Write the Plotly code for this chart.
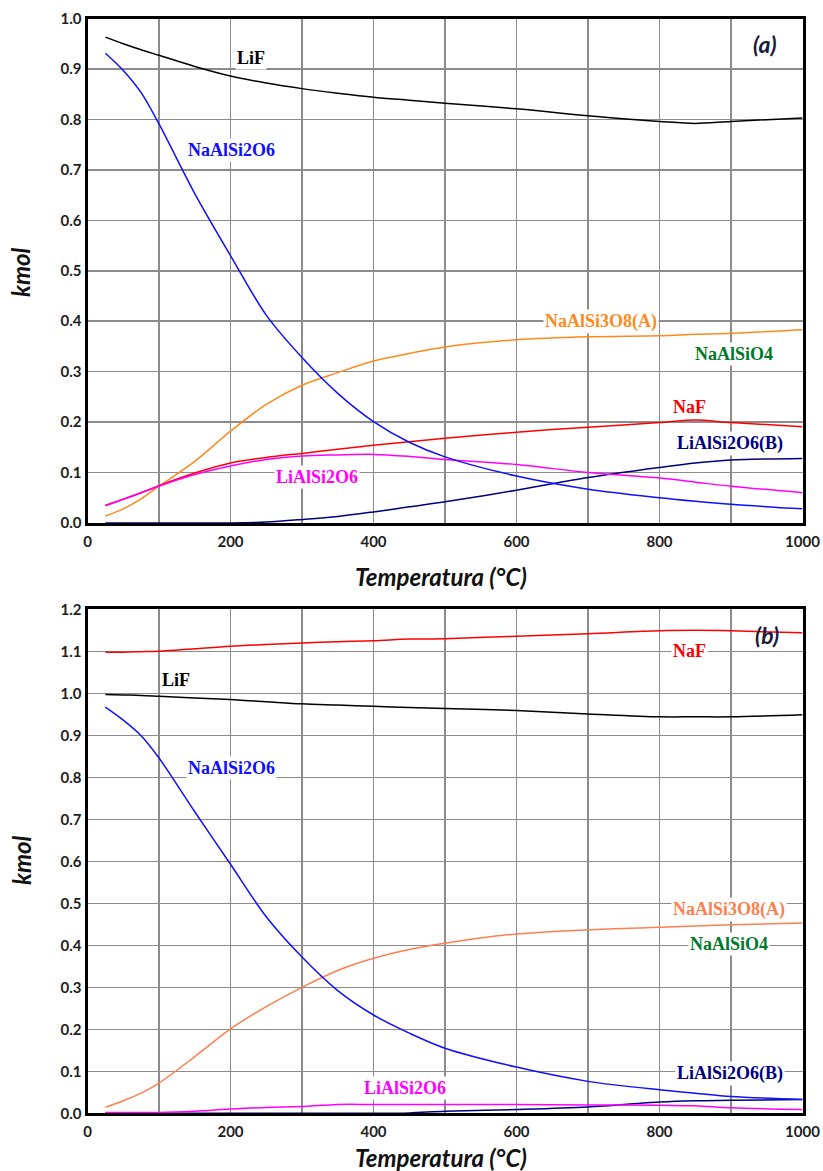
import plotly.graph_objects as go
from plotly.subplots import make_subplots

# ---------------- data ----------------
T = [25, 50, 75, 100, 150, 200, 250, 300, 350, 400, 450, 500, 600, 700, 800, 850, 900, 1000]

# panel (a)
LiF_a        = [0.963, 0.950, 0.938, 0.927, 0.905, 0.886, 0.872, 0.861, 0.852, 0.844, 0.838, 0.832, 0.821, 0.807, 0.796, 0.792, 0.796, 0.803]
NaAlSi2O6_a  = [0.931, 0.897, 0.853, 0.791, 0.653, 0.530, 0.412, 0.328, 0.257, 0.201, 0.160, 0.131, 0.093, 0.067, 0.050, 0.043, 0.037, 0.028]
NaAlSi3O8_a  = [0.014, 0.028, 0.048, 0.073, 0.122, 0.182, 0.235, 0.273, 0.298, 0.321, 0.336, 0.349, 0.363, 0.369, 0.371, 0.374, 0.376, 0.383]
NaF_a        = [0.035, 0.047, 0.060, 0.074, 0.099, 0.119, 0.130, 0.138, 0.146, 0.154, 0.161, 0.168, 0.180, 0.190, 0.199, 0.204, 0.199, 0.191]
LiAlSi2O6_a  = [0.034, 0.047, 0.060, 0.073, 0.096, 0.113, 0.126, 0.133, 0.135, 0.136, 0.132, 0.126, 0.116, 0.100, 0.089, 0.081, 0.073, 0.060]
LiAlSi2O6B_a = [0.000, 0.000, 0.000, 0.000, 0.000, 0.000, 0.002, 0.007, 0.013, 0.022, 0.032, 0.042, 0.065, 0.090, 0.110, 0.119, 0.125, 0.128]

# panel (b)
NaF_b        = [1.098, 1.098, 1.099, 1.100, 1.106, 1.112, 1.116, 1.120, 1.123, 1.125, 1.129, 1.130, 1.136, 1.142, 1.149, 1.150, 1.149, 1.144]
LiF_b        = [0.997, 0.996, 0.995, 0.993, 0.989, 0.985, 0.980, 0.975, 0.972, 0.969, 0.966, 0.964, 0.959, 0.951, 0.944, 0.944, 0.944, 0.949]
NaAlSi2O6_b  = [0.967, 0.936, 0.899, 0.846, 0.718, 0.593, 0.468, 0.372, 0.292, 0.234, 0.191, 0.155, 0.110, 0.076, 0.056, 0.048, 0.040, 0.033]
NaAlSi3O8_b  = [0.014, 0.030, 0.048, 0.072, 0.135, 0.201, 0.254, 0.300, 0.340, 0.369, 0.390, 0.405, 0.427, 0.437, 0.443, 0.446, 0.449, 0.453]
LiAlSi2O6_b  = [0.002, 0.002, 0.002, 0.002, 0.005, 0.010, 0.014, 0.016, 0.021, 0.021, 0.021, 0.021, 0.021, 0.020, 0.019, 0.018, 0.013, 0.009]
LiAlSi2O6B_b = [0.000, 0.000, 0.000, 0.000, 0.000, 0.000, 0.000, 0.000, 0.000, 0.000, 0.001, 0.005, 0.009, 0.015, 0.027, 0.030, 0.031, 0.033]

x_ticks = [0, 200, 400, 600, 800, 1000]

# ---------------- styles ----------------
C_LiF = "#000000"
C_NaAlSi2O6 = "#1010ff"
C_NaAlSi3O8_a = "#ff8a1c"
C_NaAlSi3O8_b = "#ff7f50"
C_NaF = "#ff0000"
C_LiAlSi2O6 = "#ff00ff"
C_LiAlSi2O6B = "#000080"
C_NaAlSiO4 = "#007a2a"

fig = make_subplots(rows=2, cols=1)

def add(row, y, color):
    fig.add_trace(go.Scatter(x=T, y=y, mode="lines", line=dict(color=color, width=1.5, shape="spline", smoothing=0.9),
                             showlegend=False, hoverinfo="skip"), row=row, col=1)

add(1, LiAlSi2O6B_a, C_LiAlSi2O6B)
add(1, NaAlSi3O8_a, C_NaAlSi3O8_a)
add(1, NaF_a, C_NaF)
add(1, LiAlSi2O6_a, C_LiAlSi2O6)
add(1, NaAlSi2O6_a, C_NaAlSi2O6)
add(1, LiF_a, C_LiF)

add(2, LiAlSi2O6B_b, C_LiAlSi2O6B)
add(2, LiAlSi2O6_b, C_LiAlSi2O6)
add(2, NaAlSi3O8_b, C_NaAlSi3O8_b)
add(2, NaAlSi2O6_b, C_NaAlSi2O6)
add(2, LiF_b, C_LiF)
add(2, NaF_b, C_NaF)

# the page body margin is removed in post_script, so the figure fills the window
W, H = 823, 1171
def px(xp):
    return xp / W
def py(yp):
    return 1 - yp / H

x0, x1 = px(87.5), px(802.5)
ya = (py(523), py(18.5))
yb = (py(1113.3), py(609.3))

grid = "#8c8c8c"
tickfont = dict(family="Lato", size=15, color="#1e1e1e", weight="bold")
xcommon = dict(range=[0, 1000], tickvals=x_ticks, showgrid=True, gridcolor=grid, gridwidth=1.5,
               minor=dict(dtick=100, tick0=0, showgrid=True, gridcolor=grid, gridwidth=1.5),
               showline=True, linecolor="black", linewidth=3, mirror=True, zeroline=False,
               ticks="", tickfont=tickfont, ticklabelstandoff=3, automargin=False,
               ticklabeloverflow="allow", domain=[x0, x1])
ycommon = dict(dtick=0.1, tick0=0, tickformat=".1f", showgrid=True, gridcolor=grid, gridwidth=1.5,
               showline=True, linecolor="black", linewidth=3, mirror=True, zeroline=False,
               ticks="", tickfont=tickfont, ticklabelstandoff=0, automargin=False,
               ticklabeloverflow="allow")

fig.update_layout(
    width=W, height=H, margin=dict(l=0, r=0, t=0, b=0),
    paper_bgcolor="white", plot_bgcolor="white",
    xaxis=dict(**xcommon), xaxis2=dict(**xcommon),
    yaxis=dict(**ycommon, range=[0, 1.0], domain=list(ya)),
    yaxis2=dict(**ycommon, range=[0, 1.2], domain=list(yb)),
)

lab_font = "Liberation Serif"
def lab(text, x, y, color, row):
    fig.add_annotation(x=x, y=y, xref="x" if row == 1 else "x2", yref="y" if row == 1 else "y2",
                       text="<b>" + text + "</b>", showarrow=False, bgcolor="white", borderpad=1,
                       xanchor="center", yanchor="middle",
                       font=dict(family=lab_font, size=18, color=color))

lab("LiF", 229, 0.921, C_LiF, 1)
lab("NaAlSi2O6", 201, 0.740, C_NaAlSi2O6, 1)
lab("LiAlSi2O6", 321, 0.091, C_LiAlSi2O6, 1)
lab("NaAlSi3O8(A)", 718, 0.399, C_NaAlSi3O8_a, 1)
lab("NaAlSiO4", 904, 0.335, C_NaAlSiO4, 1)
lab("NaF", 842, 0.230, C_NaF, 1)
lab("LiAlSi2O6(B)", 899, 0.157, C_LiAlSi2O6B, 1)

lab("LiF", 124, 1.031, C_LiF, 2)
lab("NaAlSi2O6", 201, 0.821, C_NaAlSi2O6, 2)
lab("NaF", 842, 1.100, C_NaF, 2)
lab("NaAlSi3O8(A)", 897, 0.486, C_NaAlSi3O8_b, 2)
lab("NaAlSiO4", 897, 0.402, C_NaAlSiO4, 2)
lab("LiAlSi2O6(B)", 899, 0.095, C_LiAlSi2O6B, 2)
lab("LiAlSi2O6", 444, 0.060, C_LiAlSi2O6, 2)

panel_font = dict(family="Lato", size=23, color="#1a1a3a", weight="bold", style="italic")
fig.add_annotation(x=948, y=0.950, xref="x", yref="y", text="(a)", showarrow=False, font=panel_font,
                   xanchor="center", yanchor="middle")
fig.add_annotation(x=950, y=1.140, xref="x2", yref="y2", text="(b)", showarrow=False, font=panel_font,
                   xanchor="center", yanchor="middle")

title_font = dict(family="Lato", size=24, color="#111111", weight="bold", style="italic")
kmol_font = dict(family="Lato", size=24, color="#111111", weight="bold", style="italic")
for yp in (576, 1157):
    fig.add_annotation(x=px(441), y=py(yp), xref="paper", yref="paper", text="Temperatura (°C)",
                       showarrow=False, font=title_font, xanchor="center", yanchor="middle")
for yp in (272, 860):
    fig.add_annotation(x=px(21), y=py(yp), xref="paper", yref="paper", text="kmol", textangle=-90,
                       showarrow=False, font=kmol_font, xanchor="center", yanchor="middle")

fig.write_html(
    "out.html",
    config={"displayModeBar": False, "staticPlot": True},
    post_script="document.documentElement.style.overflow='hidden';"
                "document.body.style.margin='0';document.body.style.overflow='hidden';",
)
